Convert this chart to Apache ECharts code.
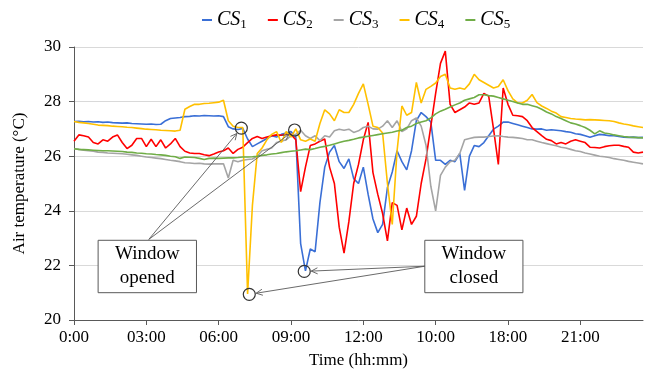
<!DOCTYPE html>
<html>
<head>
<meta charset="utf-8">
<script src="https://cdn.jsdelivr.net/npm/echarts@6/dist/echarts.min.js"></script>
<style>
  html, body { margin: 0; padding: 0; background: #fff; }
  #chart { width: 645px; height: 374px; }
</style>
</head>
<body>
<div id="chart"></div>
<script>
// readings every 12 minutes (0.2 h), from 0:00
var stepHours = 0.2;
var tickLabels = ['0:00', '03:00', '06:00', '09:00', '12:00', '10:00', '18:00', '21:00'];
var seriesNames = ['CS1', 'CS2', 'CS3', 'CS4', 'CS5'];

var cs1 = [
  27.27, 27.28, 27.26, 27.27, 27.25,  27.26, 27.24, 27.25, 27.23, 27.22,
  27.21, 27.22, 27.20, 27.19, 27.18,  27.17, 27.18, 27.16, 27.17, 27.30,
  27.38, 27.40, 27.42, 27.45, 27.46,  27.48, 27.47, 27.49, 27.48, 27.47,
  27.48, 27.45, 27.08, 27.00, 26.98,  27.02, 26.63, 26.35, 26.45, 26.55,
  26.65, 26.75, 26.70, 26.80, 26.85,  26.90, 26.70, 22.80, 21.80, 22.60,
  22.50, 24.30, 25.60, 26.15, 26.39,  25.80, 25.55, 25.90, 25.18, 25.00,
  25.60, 24.60, 23.70, 23.20, 23.50,  24.85, 25.42, 26.20, 25.80, 25.50,
  26.20, 27.30, 27.60, 27.45, 27.25,  25.85, 25.85, 25.70, 25.85, 25.80,
  26.10, 24.75, 26.00, 26.39, 26.35,  26.50, 26.75, 26.99, 27.10, 27.25,
  27.25, 27.20, 27.15, 27.10, 27.05,  27.00, 26.99, 27.00, 26.95, 26.97,
  26.95, 26.93, 26.90, 26.88, 26.82,  26.80, 26.75, 26.69, 26.75, 26.80,
  26.78, 26.75, 26.75, 26.72, 26.70,  26.69, 26.70, 26.68, 26.69
];
var cs2 = [
  26.55, 26.78, 26.75, 26.70, 26.50,  26.45, 26.60, 26.55, 26.70, 26.78,
  26.50, 26.28, 26.40, 26.65, 26.65,  26.35, 26.62, 26.35, 26.60, 26.30,
  26.45, 26.65, 26.35, 26.18, 26.12,  26.10, 26.10, 26.05, 26.02, 26.08,
  26.15, 26.20, 26.30, 26.10, 26.25,  26.33, 26.50, 26.65, 26.72, 26.65,
  26.70, 26.75, 26.78, 26.77, 26.80,  26.80, 26.60, 24.70, 25.60, 26.39,
  26.45, 26.55, 26.63, 25.60, 25.00,  23.40, 22.45, 23.60, 25.00, 25.70,
  26.60, 27.24, 25.40, 24.60, 23.90,  22.90, 24.30, 24.20, 23.30, 24.10,
  23.50, 23.80, 25.00, 25.90, 27.10,  28.30, 29.40, 29.85, 27.90, 27.60,
  27.70, 27.80, 27.95, 27.90, 27.95,  28.30, 28.20, 27.00, 25.70, 28.50,
  27.90, 27.50, 27.48, 27.45, 27.30,  27.05, 26.90, 26.75, 26.62, 26.57,
  26.45, 26.50, 26.45, 26.55, 26.60,  26.55, 26.50, 26.33, 26.32, 26.30,
  26.35, 26.38, 26.40, 26.40, 26.36,  26.33, 26.15, 26.12, 26.15
];
var cs3 = [
  26.27, 26.25, 26.22, 26.20, 26.18,  26.15, 26.14, 26.12, 26.11, 26.10,
  26.09, 26.07, 26.05, 26.03, 26.00,  25.97, 25.95, 25.93, 25.91, 25.88,
  25.85, 25.83, 25.80, 25.76, 25.75,  25.73, 25.74, 25.72, 25.71, 25.72,
  25.72, 25.72, 25.20, 25.85, 25.80,  25.85, 25.88, 25.90, 26.00, 26.20,
  26.25, 26.30, 26.50, 26.55, 26.60,  26.75, 26.80, 26.95, 26.75, 26.65,
  26.75, 26.57, 26.75, 26.70, 26.93,  26.99, 26.95, 26.99, 26.87, 26.93,
  27.05, 27.10, 27.00, 26.99, 27.10,  27.30, 27.05, 27.30, 26.90, 27.00,
  27.30, 27.40, 27.10, 26.40, 24.90,  24.00, 25.30, 25.60, 25.80, 25.85,
  26.10, 26.60, 26.65, 26.69, 26.70,  26.70, 26.72, 26.74, 26.75, 26.72,
  26.70, 26.69, 26.67, 26.65, 26.60,  26.60, 26.55, 26.50, 26.46, 26.42,
  26.38, 26.33, 26.30, 26.25, 26.20,  26.17, 26.12, 26.08, 26.04, 26.00,
  25.98, 25.95, 25.91, 25.88, 25.85,  25.81, 25.78, 25.75, 25.72
];
var cs4 = [
  27.27, 27.24, 27.22, 27.20, 27.17,  27.14, 27.13, 27.12, 27.10, 27.09,
  27.08, 27.06, 27.05, 27.03, 27.01,  26.99, 26.98, 26.97, 26.95, 26.94,
  26.93, 26.92, 26.95, 27.72, 27.82,  27.90, 27.90, 27.93, 27.94, 27.96,
  27.98, 28.05, 27.30, 27.10, 27.05,  27.05, 20.95, 24.20, 26.10, 26.30,
  26.60, 26.80, 26.90, 26.50, 26.90,  26.70, 27.00, 26.60, 26.55, 26.63,
  26.55, 27.20, 27.70, 27.55, 27.30,  27.70, 27.60, 27.60, 27.90, 28.30,
  28.65, 27.90, 27.10, 27.05, 26.85,  25.00, 23.50, 26.20, 27.84, 27.50,
  27.60, 28.70, 27.95, 28.45, 28.56,  28.68, 28.92, 29.00, 28.50, 28.45,
  28.50, 28.45, 28.65, 29.00, 28.80,  28.70, 28.60, 28.50, 28.55, 28.80,
  28.40, 28.10, 27.95, 27.95, 28.05,  28.26, 27.96, 27.84, 27.75, 27.65,
  27.58, 27.45, 27.42, 27.38, 27.36,  27.35, 27.33, 27.34, 27.33, 27.32,
  27.31, 27.30, 27.27, 27.22, 27.18,  27.15, 27.11, 27.08, 27.05
];
var cs5 = [
  26.27, 26.25, 26.24, 26.23, 26.22,  26.21, 26.20, 26.20, 26.19, 26.18,
  26.17, 26.15, 26.14, 26.12, 26.11,  26.09, 26.08, 26.06, 26.05, 26.03,
  26.00, 25.98, 25.92, 25.97, 25.96,  25.95, 25.92, 25.88, 25.92, 25.93,
  25.92, 25.93, 25.94, 25.94, 25.95,  25.97, 25.97, 25.98, 26.00, 26.03,
  26.05, 26.08, 26.10, 26.13, 26.16,  26.18, 26.20, 26.23, 26.26, 26.24,
  26.28, 26.33, 26.36, 26.40, 26.45,  26.50, 26.55, 26.58, 26.62, 26.67,
  26.70, 26.73, 26.76, 26.79, 26.82,  26.85, 26.88, 26.92, 26.95, 27.05,
  27.10, 27.20, 27.25, 27.30, 27.40,  27.55, 27.65, 27.72, 27.80, 27.88,
  27.95, 28.05, 28.10, 28.15, 28.25,  28.25, 28.22, 28.20, 28.15, 28.10,
  28.05, 28.00, 27.95, 27.90, 27.90,  27.85, 27.80, 27.72, 27.62, 27.55,
  27.45, 27.38, 27.30, 27.22, 27.18,  27.12, 27.05, 26.95, 26.82, 26.93,
  26.85, 26.82, 26.78, 26.75, 26.72,  26.70, 26.69, 26.68, 26.67
];

var colors = ['#3a6fd6', '#ff0000', '#a5a5a5', '#ffc000', '#70ad47'];
var serif = '"Liberation Serif", "DejaVu Serif", serif';

// callouts, in axis units (hours, degrees)
var notes = [
  { text: 'Window\nopened', box: [1.0, 22.92, 5.08, 21.0], from: [3.1, 22.95],
    marks: [[6.94, 27.03], [9.15, 26.96]] },
  { text: 'Window\nclosed', box: [14.55, 22.92, 18.62, 21.0], from: [14.55, 21.97],
    marks: [[9.55, 21.78], [7.27, 20.94]] }
];

var chartDom = document.getElementById('chart');
var myChart = echarts.init(chartDom);

function pairs(vals) {
  var out = [];
  for (var i = 0; i < vals.length; i++) {
    out.push([Math.round(i * stepHours * 100) / 100, vals[i]]);
  }
  return out;
}

var allVals = [cs1, cs2, cs3, cs4, cs5];
var series = [];
for (var k = 0; k < seriesNames.length; k++) {
  series.push({
    name: seriesNames[k],
    type: 'line',
    data: pairs(allVals[k]),
    showSymbol: false,
    lineStyle: { width: 1.6, color: colors[k] },
    itemStyle: { color: colors[k] }
  });
}

var option = {
  animation: false,
  color: colors,
  grid: { left: 74, right: 2, top: 47, bottom: 51 },
  legend: {
    top: 5,
    left: 197,
    icon: 'rect',
    itemWidth: 10,
    itemHeight: 2,
    itemGap: 21,
    data: seriesNames,
    formatter: function (name) {
      return '{m|CS}{s|' + name.slice(2) + '}';
    },
    textStyle: {
      rich: {
        m: { fontFamily: serif, fontStyle: 'italic', fontSize: 20, color: '#000' },
        s: { fontFamily: serif, fontSize: 13, color: '#000', padding: [10, 0, 0, 0] }
      }
    }
  },
  xAxis: {
    type: 'value',
    min: 0,
    max: 23.6,
    interval: 3,
    name: 'Time (hh:mm)',
    nameLocation: 'middle',
    nameGap: 32,
    nameTextStyle: { fontFamily: serif, fontSize: 17, color: '#000' },
    axisLine: { show: true, lineStyle: { color: '#595959', width: 1 } },
    axisTick: { show: true, length: 5, lineStyle: { color: '#595959' } },
    splitLine: { show: false },
    axisLabel: {
      showMaxLabel: false,
      margin: 9,
      fontFamily: serif, fontSize: 17, color: '#000',
      formatter: function (v) {
        var idx = Math.round(v / 3);
        return tickLabels[idx] || '';
      }
    }
  },
  yAxis: {
    type: 'value',
    min: 20,
    max: 30,
    interval: 2,
    name: 'Air temperature (°C)',
    nameLocation: 'middle',
    nameGap: 46,
    nameRotate: 90,
    nameTextStyle: { fontFamily: serif, fontSize: 17, color: '#000' },
    axisLine: { show: true, lineStyle: { color: '#595959', width: 1 } },
    axisTick: { show: true, length: 5, lineStyle: { color: '#595959' } },
    splitLine: { show: true, lineStyle: { color: '#d9d9d9', width: 1 } },
    axisLabel: { margin: 13, fontFamily: serif, fontSize: 17, color: '#000' }
  },
  series: series
};

myChart.setOption(option);

// callout boxes, arrows and circles drawn on top
function px(p) {
  return myChart.convertToPixel({ xAxisIndex: 0, yAxisIndex: 0 }, p);
}

function drawNotes() {
  var g = [];
  var r = 6;
  notes.forEach(function (n) {
    var a = px([n.box[0], n.box[1]]);
    var b = px([n.box[2], n.box[3]]);
    g.push({
      type: 'rect', z: 100,
      shape: { x: a[0], y: a[1], width: b[0] - a[0], height: b[1] - a[1] },
      style: { fill: '#fff', stroke: '#595959', lineWidth: 1 }
    });
    g.push({
      type: 'text', z: 101,
      style: {
        text: n.text, x: (a[0] + b[0]) / 2, y: (a[1] + b[1]) / 2,
        align: 'center', verticalAlign: 'middle',
        textAlign: 'center', textVerticalAlign: 'middle',
        fontFamily: serif, fontSize: 19, lineHeight: 24, fill: '#000'
      }
    });
    var s = px(n.from);
    n.marks.forEach(function (m) {
      var c = px(m);
      g.push({
        type: 'circle', z: 100,
        shape: { cx: c[0], cy: c[1], r: r },
        style: { fill: 'none', stroke: '#333', lineWidth: 1.2 }
      });
      var dx = c[0] - s[0], dy = c[1] - s[1];
      var len = Math.sqrt(dx * dx + dy * dy);
      var ux = dx / len, uy = dy / len;
      var ex = c[0] - ux * (r + 1), ey = c[1] - uy * (r + 1);
      g.push({
        type: 'line', z: 100,
        shape: { x1: s[0], y1: s[1], x2: ex, y2: ey },
        style: { stroke: '#595959', lineWidth: 0.9 }
      });
      var ang = 0.45, hl = 7;
      var cs = Math.cos(ang), sn = Math.sin(ang);
      var p1 = [ex - hl * (ux * cs - uy * sn), ey - hl * (uy * cs + ux * sn)];
      var p2 = [ex - hl * (ux * cs + uy * sn), ey - hl * (uy * cs - ux * sn)];
      g.push({
        type: 'polyline', z: 100,
        shape: { points: [p1, [ex, ey], p2] },
        style: { stroke: '#595959', lineWidth: 0.9, fill: 'none' }
      });
    });
  });
  myChart.setOption({ graphic: g });
}
drawNotes();
</script>
</body>
</html>
